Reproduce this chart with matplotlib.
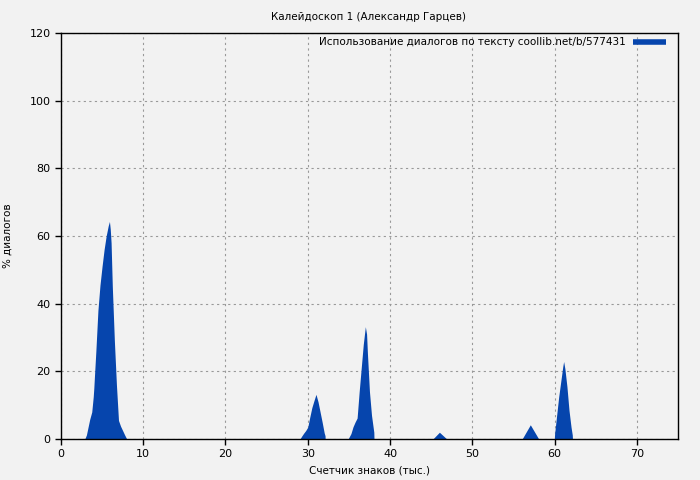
import matplotlib
matplotlib.use("Agg")
import matplotlib.pyplot as plt
from matplotlib.lines import Line2D

# Peaks: x in thousands of characters, y in % dialogues
peak1_x = [2.9, 3.1, 3.3, 3.5, 3.75, 3.93, 4.0, 4.1, 4.25, 4.5, 4.75, 5.0, 5.25, 5.5, 5.75, 5.9,
           6.0, 6.1, 6.25, 6.5, 6.75, 7.0, 7.25, 7.5, 7.75, 8.0]
peak1_y = [0, 1.2, 3.5, 5.8, 8, 12.5, 15, 19.5, 26, 38, 45.5, 51, 56, 60, 63, 64.3,
           62, 58, 45, 29, 16, 5.5, 3.8, 2.5, 1.2, 0]
peak2_x = [29.05, 29.25, 29.5, 29.75, 30.0, 30.25, 30.5, 30.75, 31.0, 31.25, 31.5, 31.75, 32.0, 32.1, 32.12]
peak2_y = [0, 0.8, 1.7, 2.5, 3.5, 6.5, 9.3, 11.3, 13.2, 11, 8, 5, 1.8, 1.0, 0]
peak3_x = [34.9, 35.25, 35.5, 35.75, 36.0, 36.25, 36.5, 36.75, 37.0, 37.15, 37.25, 37.5, 37.75, 38.03, 38.05]
peak3_y = [0, 1.6, 3.6, 5.0, 6.2, 14, 21, 28, 33.2, 31, 25.5, 14, 7, 2.0, 0]
peak4_x = [45.2, 46.0, 46.9]
peak4_y = [0, 2.0, 0]
peak5_x = [56.05, 57.05, 58.07]
peak5_y = [0, 4.2, 0]
peak6_x = [59.97, 60.0, 60.25, 60.5, 60.75, 61.0, 61.1, 61.25, 61.5, 61.75, 62.0, 62.15, 62.17]
peak6_y = [0, 1.5, 7, 12.5, 17, 21.5, 22.9, 20.8, 15.5, 8.5, 3.5, 1.2, 0]

peaks = [(peak1_x, peak1_y), (peak2_x, peak2_y), (peak3_x, peak3_y),
         (peak4_x, peak4_y), (peak5_x, peak5_y), (peak6_x, peak6_y)]

xticks = [0, 10, 20, 30, 40, 50, 60, 70]
yticks = [0, 20, 40, 60, 80, 100, 120]

title = "Калейдоскоп 1 (Александр Гарцев)"
legend_label = "Использование диалогов по тексту coollib.net/b/577431"
xlabel = "Счетчик знаков (тыс.)"
ylabel = "% диалогов"

color = "#0645AD"
bg = "#f2f2f2"

plt.rcParams['font.family'] = ['DejaVu Sans']
plt.rcParams['font.size'] = 8

fig = plt.figure(figsize=(7, 4.8), dpi=100, facecolor=bg)
ax = fig.add_axes([0.087, 0.0854, 0.8816, 0.8458], facecolor=bg)

for px, py in peaks:
    ax.fill_between(px, py, 0, color=color, linewidth=0)

ax.set_xlim(0, 75)
ax.set_ylim(0, 120)
ax.set_xticks(xticks)
ax.set_yticks(yticks)
ax.grid(True, color="#999999", linestyle=(0, (2, 3)), linewidth=0.8)
ax.set_axisbelow(True)
ax.tick_params(direction="out", length=4, width=1, labelsize=8)
for s in ax.spines.values():
    s.set_linewidth(1)

handle = Line2D([0], [0], color=color, linewidth=4, solid_capstyle="butt")
ax.legend([handle], [legend_label], loc="upper right", frameon=False,
          markerfirst=False, fontsize=7.5, handlelength=3.17,
          borderaxespad=0.3, handletextpad=0.67,
          bbox_to_anchor=(0.9916, 1.0074))

fig.text(0.527, 0.965, title, ha="center", va="center", fontsize=7.5)
ax.set_xlabel(xlabel, fontsize=7.5, labelpad=4.5)
ax.set_ylabel(ylabel, fontsize=7.5, labelpad=12)

fig.savefig("out.png", dpi=100, facecolor=bg)
